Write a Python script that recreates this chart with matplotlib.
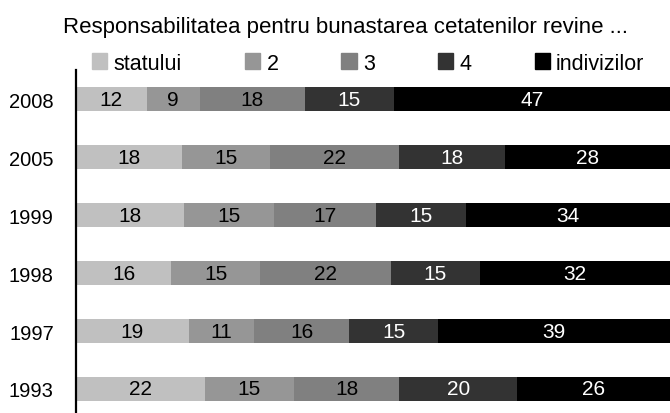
import matplotlib.pyplot as plt
import numpy as np
from matplotlib.patches import Patch

plt.rcParams['font.family'] = ['Liberation Sans', 'DejaVu Sans']

years = ['2008', '2005', '1999', '1998', '1997', '1993']
series = ['statului', '2', '3', '4', 'indivizilor']
statului = [12, 18, 18, 16, 19, 22]
s2 = [9, 15, 15, 15, 11, 15]
s3 = [18, 22, 17, 22, 16, 18]
s4 = [15, 18, 15, 15, 15, 20]
indivizilor = [47, 28, 34, 32, 39, 26]
colors = ['#c0c0c0', '#969696', '#808080', '#333333', '#000000']
text_colors = ['black', 'black', 'black', 'white', 'white']

vals = np.array([statului, s2, s3, s4, indivizilor], dtype=float)
# 100% stacked: each row scaled to its total
shares = vals / vals.sum(axis=0) * 100

fig = plt.figure(figsize=(6.7, 4.14), dpi=100)
ax = fig.add_axes([76 / 670, -5 / 414, 594 / 670, 348 / 414])

y = np.arange(len(years))
left = np.zeros(len(years))
for i in range(len(series)):
    bars = ax.barh(y, shares[i], left=left, height=0.4, color=colors[i],
                   label=series[i])
    ax.bar_label(bars, labels=[str(int(v)) for v in vals[i]],
                 label_type='center', color=text_colors[i], fontsize=15)
    left += shares[i]

ax.set_xlim(0, 100)
ax.set_ylim(len(years) - 0.5, -0.5)
ax.set_yticks(y)
ax.set_yticklabels(years, fontsize=14.5)
ax.tick_params(axis='y', length=0, pad=16)
ax.set_xticks([])
for s in ['top', 'right', 'bottom']:
    ax.spines[s].set_visible(False)
ax.spines['left'].set_linewidth(1.6)

handles = [Patch(color=c) for c in colors]
fig.legend(handles, series, ncol=5, loc='center left',
           bbox_to_anchor=(92 / 670, 1 - 64 / 414), frameon=False,
           fontsize=15.5, handlelength=0.7, handleheight=0.7,
           handletextpad=0.3, columnspacing=2.93, borderaxespad=0,
           borderpad=0)

fig.text(0.515, 1 - 27 / 414,
         'Responsabilitatea pentru bunastarea cetatenilor revine ...',
         ha='center', va='center', fontsize=16)

fig.savefig('out.png', dpi=100)
